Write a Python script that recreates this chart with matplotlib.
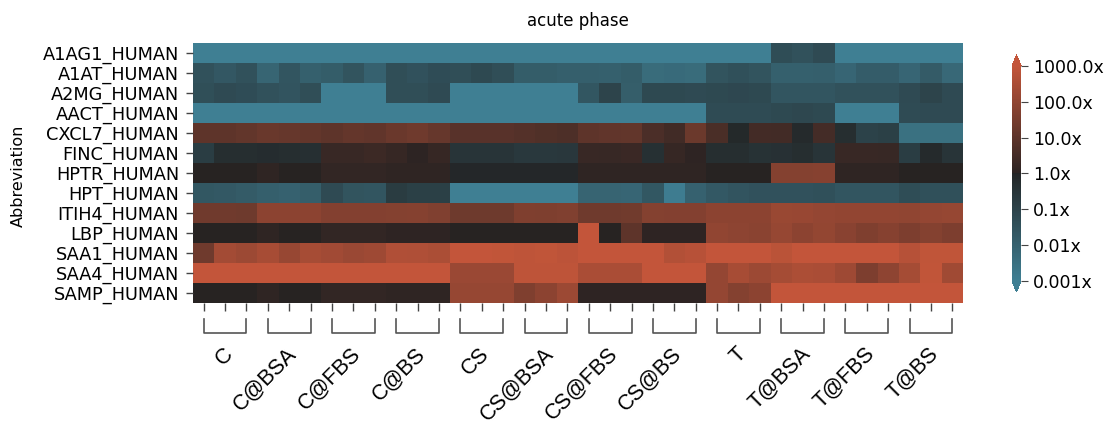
import matplotlib
matplotlib.use("Agg")
import matplotlib.pyplot as plt
import numpy as np
import seaborn as sns

# log10 fold change per protein, 12 conditions x 3 replicates
proteins = ["A1AG1_HUMAN", "A1AT_HUMAN", "A2MG_HUMAN", "AACT_HUMAN", "CXCL7_HUMAN",
            "FINC_HUMAN", "HPTR_HUMAN", "HPT_HUMAN", "ITIH4_HUMAN", "LBP_HUMAN",
            "SAA1_HUMAN", "SAA4_HUMAN", "SAMP_HUMAN"]
groups = ["C", "C@BSA", "C@FBS", "C@BS", "CS", "CS@BSA", "CS@FBS", "CS@BS",
          "T", "T@BSA", "T@FBS", "T@BS"]

a1ag1 = [-3, -3, -3, -3, -3, -3, -3, -3, -3, -3, -3, -3,
         -3, -3, -3, -3, -3, -3, -3, -3, -3, -3, -3, -3,
         -3, -3, -3, -1.32, -1.45, -1.24, -3, -3, -3, -3, -3, -3]
a1at = [-1.45, -1.65, -1.45, -2.1, -1.58, -1.94, -1.84, -1.53, -1.99, -1.34, -1.47, -1.29,
        -1.34, -1.19, -1.34, -1.84, -1.84, -1.91, -1.91, -1.94, -1.84, -2.33, -2.28, -2.33,
        -1.53, -1.42, -1.53, -1.94, -1.94, -1.91, -2.12, -1.81, -1.81, -2.12, -1.78, -2.22]
a2mg = [-1.37, -1.24, -1.29, -1.45, -1.55, -1.34, -3, -3, -3, -1.34, -1.34, -1.24,
        -3, -3, -3, -3, -3, -3, -1.6, -1.03, -1.86, -1.19, -1.19, -1.24,
        -1.19, -1.14, -1.19, -1.58, -1.58, -1.58, -1.45, -1.45, -1.45, -1.24, -1.03, -1.24]
aact = [-3, -3, -3, -3, -3, -3, -3, -3, -3, -3, -3, -3,
        -3, -3, -3, -3, -3, -3, -3, -3, -3, -3, -3, -3,
        -1.26, -1.26, -1.26, -1.19, -1.11, -1.19, -3, -3, -3, -1.26, -1.22, -1.22]
cxcl7 = [1.02, 1.02, 1.1, 1.23, 1.15, 1.12, 1.02, 1.13, 1.06, 1.26, 1.34, 1.17,
         0.91, 0.91, 0.91, 0.8, 0.73, 0.66, 1.02, 1.06, 1.1, 0.64, 0.44, 1.28,
         0.62, -0.1, 0.48, 0.46, -0.15, 0.5, -0.26, -0.96, -0.88, -2.5, -2.5, -2.5]
finc = [-0.78, -0.28, -0.28, -0.23, -0.28, -0.31, 0.26, 0.26, 0.33, 0.22, 0.04, 0.22,
        -0.49, -0.49, -0.49, -0.62, -0.62, -0.6, 0.26, 0.24, 0.29, -0.34, 0.22, 0.05,
        -0.28, -0.28, -0.41, -0.36, -0.28, -0.47, 0.26, 0.26, 0.24, -0.78, -0.16, -0.49]
hptr = [0, 0, 0, 0.09, 0, 0, 0.16, 0.16, 0.16, 0.09, 0.09, 0.09,
        -0.05, -0.05, -0.05, -0.05, -0.05, -0.05, 0.09, 0.09, 0.09, 0.09, 0.09, 0.09,
        0, 0, 0, 1.75, 1.75, 1.8, 0.09, 0.09, 0.09, 0, 0, 0]
hpt = [-1.63, -1.68, -1.76, -1.91, -1.97, -1.86, -1.22, -1.53, -1.58, -0.75, -0.88, -0.88,
       -3, -3, -3, -3, -3, -3, -2.07, -2.07, -2.12, -1.63, -2.9, -1.97,
       -1.68, -1.55, -1.47, -1.47, -1.47, -1.42, -1.58, -1.58, -1.58, -1.32, -1.42, -1.42]
itih4 = [1.37, 1.37, 1.32, 1.9, 1.9, 1.9, 1.72, 1.72, 1.72, 1.74, 1.77, 1.68,
         1.32, 1.32, 1.32, 1.65, 1.63, 1.68, 1.35, 1.35, 1.39, 1.74, 1.72, 1.72,
         1.92, 1.92, 1.92, 2.16, 2.15, 2.08, 2.03, 2.03, 2.03, 1.98, 2.08, 2.1]
lbp = [0, 0, 0, 0.09, 0, 0, 0.16, 0.16, 0.16, 0.07, 0.07, 0.07,
       0, 0, 0, 0, 0, 0, 3, 0, 1.02, 0.07, 0.07, 0.07,
       2.0, 1.94, 1.87, 2.1, 1.9, 2.05, 1.83, 1.66, 1.79, 1.61, 1.74, 1.61]
saa1 = [1.34, 2.36, 2.21, 2.45, 2.12, 2.43, 2.34, 2.2, 2.27, 2.62, 2.6, 2.52,
        3, 3, 2.96, 2.89, 2.93, 2.84, 3, 3, 3, 3, 2.67, 2.76,
        3, 3, 3, 2.82, 3, 3, 3, 3, 3, 2.74, 2.93, 2.93]
saa4 = [3, 3, 3, 3, 3, 3, 3, 3, 3, 3, 3, 3,
        2.2, 2.2, 2.2, 2.89, 2.89, 2.89, 2.5, 2.5, 2.5, 3, 3, 3,
        2.07, 2.45, 2.21, 2.4, 2.54, 2.5, 2.27, 1.61, 1.96, 2.41, 2.96, 2.32]
samp = [0, 0, 0, 0.09, 0, 0, 0.16, 0.16, 0.16, 0.09, 0.09, 0.09,
        2.09, 2.09, 2.09, 1.65, 1.92, 2.21, 0.07, 0.07, 0.07, 0.07, 0.07, 0.07,
        2.07, 1.74, 1.92, 3, 3, 3, 3, 3, 3, 3, 3, 3]

cbar_ticks = [-3, -2, -1, 0, 1, 2, 3]
cbar_labels = ["0.001x", "0.01x", "0.1x", "1.0x", "10.0x", "100.0x", "1000.0x"]

data = np.array([a1ag1, a1at, a2mg, aact, cxcl7, finc, hptr, hpt,
                 itih4, lbp, saa1, saa4, samp])
n_rep = 3

cmap = sns.diverging_palette(220, 20, center="dark", as_cmap=True)

fig = plt.figure(figsize=(11.08, 4.25), dpi=100)
ax = fig.add_axes([0.1742, 0.287, 0.695, 0.6118])
mesh = ax.pcolormesh(data, cmap=cmap, vmin=-3, vmax=3)
ax.set_xlim(0, data.shape[1])
ax.set_ylim(data.shape[0], 0)
for s in ax.spines.values():
    s.set_visible(False)

ax.set_xticks(np.arange(data.shape[1]) + 0.5)
ax.set_xticklabels([])
ax.tick_params(axis="x", length=6, width=1, color="#444444")
ax.set_yticks(np.arange(len(proteins)) + 0.5)
ax.set_yticklabels(proteins, fontsize=12.8)
ax.tick_params(axis="y", length=5, width=1, color="#444444", pad=5)

ax.set_title("acute phase", fontsize=12, pad=12)
fig.text(0.0165, 0.586, "Abbreviation", rotation=90, ha="center", va="center", fontsize=11.5)

# group brackets and labels under the heatmap
trans = ax.get_xaxis_transform()
for i, g in enumerate(groups):
    x0 = i * n_rep + 0.5
    x1 = i * n_rep + n_rep - 0.5
    ax.plot([x0, x0, x1, x1], [-0.062, -0.115, -0.115, -0.062], transform=trans,
            clip_on=False, color="#555555", lw=1.2)
    ax.text(i * n_rep + 1.5 + 0.56, -0.155, g, transform=trans, rotation=45,
            ha="right", va="top", fontsize=15.5, family="Liberation Sans")

cax = fig.add_axes([0.9134, 0.313, 0.0081, 0.5576])
cb = fig.colorbar(mesh, cax=cax, extend="both")
cb.outline.set_visible(False)
cb.set_ticks(cbar_ticks)
cb.set_ticklabels(cbar_labels)
cb.ax.tick_params(labelsize=12.5, length=5, color="#444444")

fig.savefig("out.png", dpi=100)
